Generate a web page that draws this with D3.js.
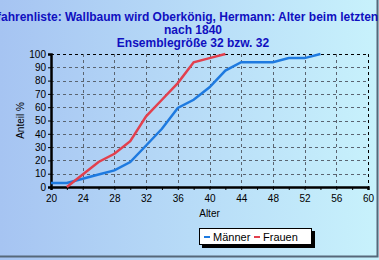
<!DOCTYPE html>
<html>
<head>
<meta charset="utf-8">
<script src="https://cdn.jsdelivr.net/npm/d3@7"></script>
<style>
  body { margin: 0; }
  #chart { width: 379px; height: 260px; }
  text { font-family: "Liberation Sans", Arial, sans-serif; }
</style>
</head>
<body>
<div id="chart"></div>
<script>
const TITLE = ["Vorfahrenliste: Wallbaum wird Oberkönig, Hermann: Alter beim letzten Kind",
    "nach 1840", "Ensemblegröße 32 bzw. 32"];

const maennerAge = [20, 22, 24, 26, 28, 30, 32, 34, 36, 38, 40, 42, 44, 46, 48, 50, 52, 54];
const maennerPct = [3.1, 3.1, 6.2, 9.4, 12.5, 18.8, 31.2, 43.8, 59.4, 65.6, 75, 87.5, 93.8, 93.8, 93.8, 96.9, 96.9, 100];

const frauenAge = [22, 24, 26, 28, 30, 32, 34, 36, 38, 40, 42];
const frauenPct = [0, 9.4, 18.8, 25, 34.4, 53.1, 65.6, 78.1, 93.8, 96.9, 100];

const xTicks = [20, 24, 28, 32, 36, 40, 44, 48, 52, 56, 60];
const yTicks = [0, 10, 20, 30, 40, 50, 60, 70, 80, 90, 100];

const MARGIN = { left: 51, top: 54, right: 11, bottom: 73 };
const W = 379, H = 260;
const width = W - MARGIN.left - MARGIN.right;
const height = H - MARGIN.top - MARGIN.bottom;

const svg = d3.select("#chart").append("svg")
    .attr("width", W)
    .attr("height", H);

const grad = svg.append("defs").append("linearGradient")
    .attr("id", "bg").attr("x1", 0).attr("x2", 1).attr("y1", 0).attr("y2", 0);
grad.append("stop").attr("offset", "0%").attr("stop-color", "#a6c4f2");
grad.append("stop").attr("offset", "100%").attr("stop-color", "#c8f2fc");

svg.append("rect").attr("width", W).attr("height", H).attr("fill", "url(#bg)");
// dark frame bottom / right
svg.append("path")
    .attr("d", `M0,${H - 3.5}H${W - 1.5}V0`)
    .attr("fill", "none").attr("stroke", "#56687a").attr("stroke-width", 2);

// title
svg.append("g").selectAll("text")
    .data(TITLE)
    .join("text")
    .attr("x", 193)
    .attr("y", (d, i) => 21 + i * 13)
    .attr("text-anchor", "middle")
    .style("font-weight", "bold")
    .style("font-size", "12px")
    .style("fill", "#1010c0")
    .text(d => d);

const g = svg.append("g")
    .attr("transform", `translate(${MARGIN.left}, ${MARGIN.top})`);

const x = d3.scaleLinear().domain([20, 60]).range([0, width]);
const y = d3.scaleLinear().domain([0, 100]).range([height, 0]);

// grid
g.append("g").selectAll("line")
    .data(yTicks.slice(1))
    .join("line")
    .attr("x1", 0).attr("x2", width)
    .attr("y1", d => Math.round(y(d)) + 0.5).attr("y2", d => Math.round(y(d)) + 0.5)
    .attr("stroke", d => d === 100 ? "#000" : "#5a6470")
    .attr("stroke-dasharray", "3,3");

g.append("g").selectAll("line")
    .data(xTicks.slice(1))
    .join("line")
    .attr("y1", 0).attr("y2", height)
    .attr("x1", d => Math.round(x(d)) + 0.5).attr("x2", d => Math.round(x(d)) + 0.5)
    .attr("stroke", d => d === 60 ? "#000" : "#5a6470")
    .attr("stroke-dasharray", "3,3");

// axes
const xAxis = g.append("g")
    .attr("transform", `translate(0, ${height})`)
    .call(d3.axisBottom(x).tickValues(d3.range(20, 61, 2)).tickSize(3)
        .tickFormat(d => xTicks.includes(d) ? d : ""));
xAxis.select(".domain").attr("stroke-width", 2.5);
xAxis.selectAll("text").style("font-size", "10px").attr("dy", "0.85em").attr("fill", "#000");

const yAxis = g.append("g")
    .call(d3.axisLeft(y).tickValues(yTicks).tickSize(3).tickPadding(2));
yAxis.select(".domain").attr("stroke-width", 2.5);
yAxis.selectAll("text").style("font-size", "10px").attr("fill", "#000");

g.append("text")
    .attr("x", width / 2)
    .attr("y", height + 30)
    .attr("text-anchor", "middle")
    .style("font-size", "10px")
    .text("Alter");

g.append("text")
    .attr("transform", "rotate(-90)")
    .attr("x", -height / 2)
    .attr("y", -27)
    .attr("text-anchor", "middle")
    .style("font-size", "10px")
    .text("Anteil %");

// lines
const line = d3.line().x(d => x(d[0])).y(d => y(d[1]));

g.append("path")
    .datum(d3.zip(maennerAge, maennerPct))
    .attr("d", line)
    .attr("fill", "none")
    .attr("stroke", "#1e7ae0")
    .attr("stroke-width", 2.5);

g.append("path")
    .datum(d3.zip(frauenAge, frauenPct))
    .attr("d", line)
    .attr("fill", "none")
    .attr("stroke", "#e2404e")
    .attr("stroke-width", 2.5);

// legend
const lg = svg.append("g").attr("transform", "translate(199, 228)");
lg.append("rect").attr("x", 3).attr("y", 3).attr("width", 113).attr("height", 17).attr("fill", "#000");
lg.append("rect").attr("x", 0.5).attr("y", 0.5).attr("width", 112).attr("height", 16)
    .attr("fill", "#fff").attr("stroke", "#000");

const legendItems = [["Männer", "#1e7ae0", 5], ["Frauen", "#e2404e", 55]];
legendItems.forEach(([name, color, lx]) => {
    lg.append("line").attr("x1", lx).attr("x2", lx + 6).attr("y1", 9).attr("y2", 9)
        .attr("stroke", color).attr("stroke-width", 2);
    lg.append("text").attr("x", lx + 9).attr("y", 13)
        .style("font-size", "11px").text(name);
});
</script>
</body>
</html>
